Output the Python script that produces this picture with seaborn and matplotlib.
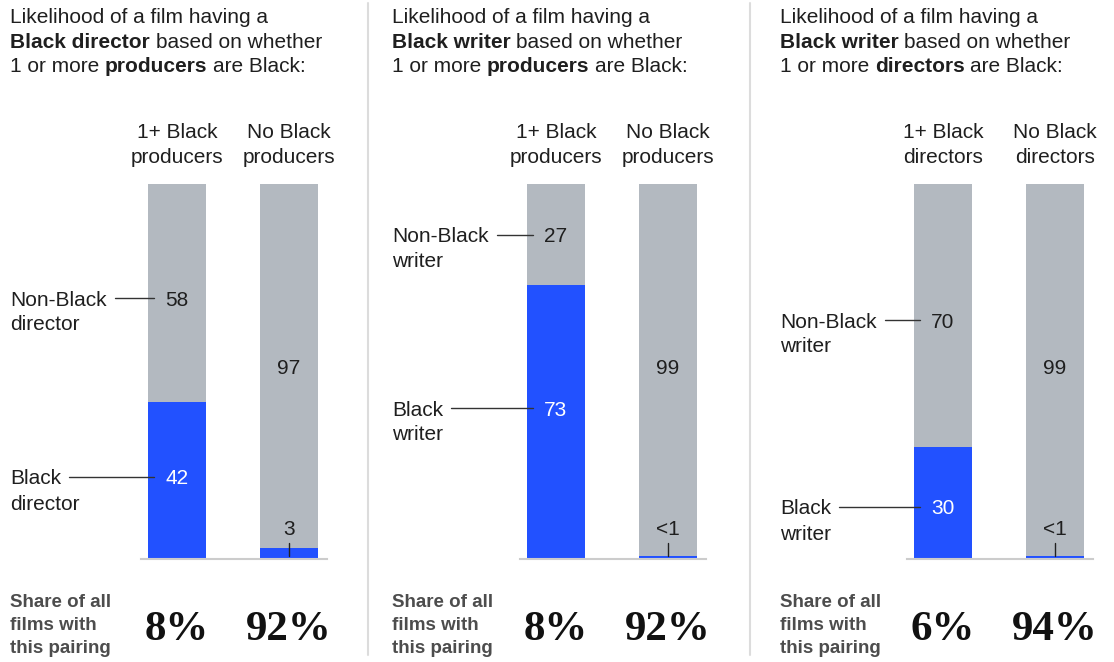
import matplotlib
matplotlib.use("Agg")
import matplotlib.pyplot as plt
import matplotlib.transforms as mtransforms
from matplotlib.lines import Line2D
import seaborn as sns
import pandas as pd

# ---- data ----
subjects = ["Black director", "Black writer", "Black writer"]
bases = ["producers", "producers", "directors"]
roles = ["director", "writer", "writer"]
bar_cats = [["1+ Black\nproducers", "No Black\nproducers"],
            ["1+ Black\nproducers", "No Black\nproducers"],
            ["1+ Black\ndirectors", "No Black\ndirectors"]]
black_share = [[42, 3], [73, 0.8], [30, 0.8]]
black_text = [["42", "3"], ["73", "<1"], ["30", "<1"]]
other_text = [["58", "97"], ["27", "99"], ["70", "99"]]
pairing = [["8%", "92%"], ["8%", "92%"], ["6%", "94%"]]

# ---- layout (pixels) ----
W, H = 1114, 662
panel_x = [10, 392, 780]
axes_left = [141, 520, 907]
other_y = [298, 235, 320]     # y of the gray label in the first bar
black_y = [477, 408, 507]     # y of the blue label in the first bar
BLUE = "#2251FF"
GRAY = "#B3B9C0"
TXT = "#1f1f1f"
FS = 15
OFF = 7.5   # half cap height, px

sns.set_theme(style="white")
plt.rcParams["font.family"] = ["Liberation Sans", "DejaVu Sans"]

fig = plt.figure(figsize=(W / 100, H / 100), dpi=100)
renderer = fig.canvas.get_renderer()


def fx(x):
    return x / W


def fy(y):
    return 1 - y / H


def text_width(s, **kw):
    t = fig.text(0, 0, s, **kw)
    w = t.get_window_extent(renderer).width
    t.remove()
    return w


def rich_line(x, y, parts, size=FS):
    space = text_width("a a", fontsize=size) - text_width("aa", fontsize=size)
    for i, (s, wgt) in enumerate(parts):
        if i > 0:
            x += space
        t = fig.text(fx(x), fy(y), s, fontsize=size, fontweight=wgt,
                     ha="left", va="baseline", color=TXT)
        x += t.get_window_extent(renderer).width


def hline(x0, x1, y):
    fig.add_artist(Line2D([fx(x0), fx(x1)], [fy(y), fy(y)],
                          transform=fig.transFigure, color="#333333", lw=1))


for p in range(3):
    x0 = panel_x[p]
    # title
    rich_line(x0, 23, [("Likelihood of a film having a", "normal")])
    rich_line(x0, 48, [(subjects[p], "bold"), ("based on whether", "normal")])
    rich_line(x0, 72, [("1 or more", "normal"), (bases[p], "bold"),
                       ("are Black:", "normal")])

    ax = fig.add_axes([fx(axes_left[p]), (H - 559) / H, 186 / W, 375 / H])
    df = pd.DataFrame({"cat": bar_cats[p], "total": [100, 100],
                       "black": black_share[p]})
    sns.barplot(data=df, x="cat", y="total", color=GRAY, saturation=1,
                width=0.52, linewidth=0, ax=ax)
    sns.barplot(data=df, x="cat", y="black", color=BLUE, saturation=1,
                width=0.52, linewidth=0, ax=ax)
    ax.set_xlim(-0.32, 1.34)
    ax.set_ylim(0, 100)
    ax.set_xticks([])
    ax.set_yticks([])
    ax.set_xlabel("")
    ax.set_ylabel("")
    for side in ["left", "right", "top"]:
        ax.spines[side].set_visible(False)
    ax.spines["bottom"].set_color("#cccccc")
    ax.spines["bottom"].set_linewidth(1.5)

    bt = mtransforms.blended_transform_factory(ax.transData, fig.transFigure)
    for i in range(2):
        l1, l2 = bar_cats[p][i].split("\n")
        ax.text(i, fy(138), l1, transform=bt, ha="center", va="baseline",
                fontsize=FS, color=TXT)
        ax.text(i, fy(163), l2, transform=bt, ha="center", va="baseline",
                fontsize=FS, color=TXT)
        ax.text(i, fy(640), pairing[p][i], transform=bt, ha="center",
                va="baseline", fontsize=31, fontweight="bold",
                family="Liberation Serif", color="#111111")

    # values inside first bar
    ax.text(0, fy(other_y[p] + OFF), other_text[p][0], transform=bt,
            ha="center", va="baseline", fontsize=FS, color=TXT)
    ax.text(0, fy(black_y[p] + OFF), black_text[p][0], transform=bt,
            ha="center", va="baseline", fontsize=FS, color="white")
    # second bar
    ax.text(1, fy(366 + OFF), other_text[p][1], transform=bt, ha="center",
            va="baseline", fontsize=FS, color=TXT)
    ax.text(1, 7.8, black_text[p][1], ha="center", va="center",
            fontsize=FS, color=TXT)
    ax.plot([1, 1], [0.8, 4.2], color="#222222", lw=1)

    # left labels with leaders
    bar_left = axes_left[p] + 36 - 29
    for y, word in [(other_y[p], "Non-Black"), (black_y[p], "Black")]:
        t = fig.text(fx(x0), fy(y + OFF), word, fontsize=FS, ha="left",
                     va="baseline", color=TXT)
        fig.text(fx(x0), fy(y + OFF + 25), roles[p], fontsize=FS, ha="left",
                 va="baseline", color=TXT)
        end = x0 + t.get_window_extent(renderer).width
        hline(end + 8, bar_left + 6, y)

    # share caption
    for k, s in enumerate(["Share of all", "films with", "this pairing"]):
        fig.text(fx(x0), fy(607 + 23 * k), s, fontsize=13.5, fontweight="bold",
                 ha="left", va="baseline", color="#4d4d4d")

# separators
for sx in [368, 750]:
    fig.add_artist(Line2D([fx(sx), fx(sx)], [fy(3), fy(655)],
                          transform=fig.transFigure, color="#dcdcdc", lw=1.5))

fig.savefig("out.png", dpi=100)
